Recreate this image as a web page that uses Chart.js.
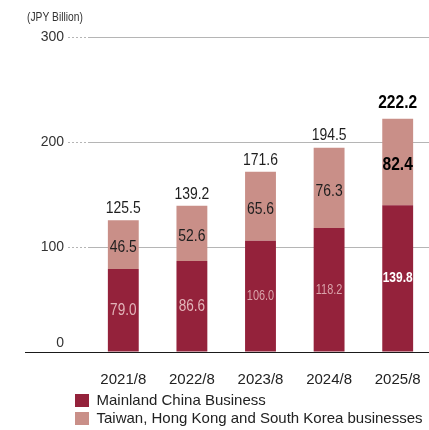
<!DOCTYPE html>
<html>
<head>
<meta charset="utf-8">
<script src="https://cdn.jsdelivr.net/npm/chart.js@4.4.0/dist/chart.umd.min.js"></script>
<style>
  html, body { margin: 0; padding: 0; background: #fff; overflow: hidden; }
  canvas { display: block; }
</style>
</head>
<body>
<canvas id="chart" width="432" height="430"></canvas>
<script>
const years = ['2021/8', '2022/8', '2023/8', '2024/8', '2025/8'];
const mainland = [79.0, 86.6, 106.0, 118.2, 139.8];
const otherAsia = [46.5, 52.6, 65.6, 76.3, 82.4];
const yTicks = [0, 100, 200, 300];
const seriesNames = ['Mainland China Business', 'Taiwan, Hong Kong and South Korea businesses'];
const unitLabel = '(JPY Billion)';

const DARK = '#94223b';
const LIGHT = '#c98f88';
const SANS = '"Liberation Sans", Arial, sans-serif';

// condensed look for the value labels: squeeze regular glyphs horizontally
function narrowText(ctx, text, x, y, font, squeeze) {
  ctx.save();
  ctx.font = font;
  ctx.translate(x, y);
  ctx.scale(squeeze, 1);
  ctx.fillText(text, 0, 0);
  ctx.restore();
}

const barLabels = {
  id: 'barLabels',
  afterDatasetsDraw(chart) {
    const ctx = chart.ctx;
    const last = years.length - 1;
    ctx.save();
    ctx.textAlign = 'center';
    ctx.textBaseline = 'middle';

    chart.getDatasetMeta(0).data.forEach((bar, i) => {
      const mid = (bar.y + bar.base) / 2;
      if (i === last) {
        ctx.fillStyle = '#ffffff';
        narrowText(ctx, mainland[i].toFixed(1), bar.x, mid, 'bold 15px ' + SANS, 0.8);
      } else if (i >= 2) {
        ctx.fillStyle = '#d9a3aa';
        narrowText(ctx, mainland[i].toFixed(1), bar.x, mid, '14px ' + SANS, 0.78);
      } else {
        ctx.fillStyle = '#e2b4b9';
        narrowText(ctx, mainland[i].toFixed(1), bar.x, mid, '17px ' + SANS, 0.8);
      }
    });

    chart.getDatasetMeta(1).data.forEach((bar, i) => {
      const mid = (bar.y + bar.base) / 2 + 3;
      const font = (i === last ? 'bold 19px ' : '17px ') + SANS;
      ctx.fillStyle = i === last ? '#000' : '#1e1e1e';
      narrowText(ctx, otherAsia[i].toFixed(1), bar.x, mid, font, 0.82);

      const total = mainland[i] + otherAsia[i];
      narrowText(ctx, total.toFixed(1), bar.x, bar.y - (i === last ? 16 : 12), font, 0.82);
    });
    ctx.restore();
  }
};

// baseline under the bars, unit caption, legend nudged under the plot
const frame = {
  id: 'frame',
  afterLayout(chart) {
    chart.legend.left = 72;
  },
  afterDraw(chart) {
    const ctx = chart.ctx;
    const y0 = Math.round(chart.scales.y.getPixelForValue(0)) + 0.5;
    ctx.save();
    ctx.strokeStyle = '#1a1a1a';
    ctx.lineWidth = 1.2;
    ctx.beginPath();
    ctx.moveTo(25, y0);
    ctx.lineTo(chart.width, y0);
    ctx.stroke();

    ctx.fillStyle = '#333';
    ctx.textAlign = 'left';
    ctx.textBaseline = 'middle';
    narrowText(ctx, unitLabel, 27, 18, '12.5px ' + SANS, 0.82);
    ctx.restore();
  }
};

new Chart(document.getElementById('chart'), {
  type: 'bar',
  data: {
    labels: years,
    datasets: [
      { label: seriesNames[0], data: mainland, backgroundColor: DARK, borderWidth: 0 },
      { label: seriesNames[1], data: otherAsia, backgroundColor: LIGHT, borderWidth: 0 }
    ]
  },
  options: {
    responsive: false,
    animation: false,
    layout: { padding: { left: 0, top: 37, right: 0, bottom: 0 } },
    datasets: {
      bar: { categoryPercentage: 1, barPercentage: 0.45 }
    },
    scales: {
      x: {
        stacked: true,
        grid: { display: false },
        border: { display: false },
        ticks: { padding: 11, color: '#222', font: { family: SANS, size: 15 } },
        afterFit(scale) { scale.height = 38; }
      },
      y: {
        stacked: true,
        min: yTicks[0],
        max: yTicks[yTicks.length - 1],
        afterBuildTicks(scale) { scale.ticks = yTicks.map(v => ({ value: v })); },
        grid: {
          color: ctx => ctx.tick && ctx.tick.value === 0 ? 'rgba(0,0,0,0)' : '#b5b5b5',
          tickColor: ctx => ctx.tick && ctx.tick.value === 0 ? 'rgba(0,0,0,0)' : '#b5b5b5',
          borderDash: [2, 2],
          tickBorderDash: [2, 2],
          tickLength: 21,
          lineWidth: 1
        },
        border: { display: false },
        ticks: {
          padding: 4,
          color: '#333',
          font: { family: SANS, size: 14 },
          // the zero label sits above the baseline: an empty second line lifts it
          callback: v => v === 0 ? ['0', ''] : String(v)
        },
        afterFit(scale) { scale.width = 89; }
      }
    },
    plugins: {
      legend: {
        position: 'bottom',
        align: 'start',
        maxHeight: 40,
        labels: {
          boxWidth: 14,
          boxHeight: 13,
          padding: 3,
          color: '#222',
          font: { family: SANS, size: 15 }
        }
      },
      tooltip: { enabled: false }
    }
  },
  plugins: [barLabels, frame]
});
</script>
</body>
</html>
